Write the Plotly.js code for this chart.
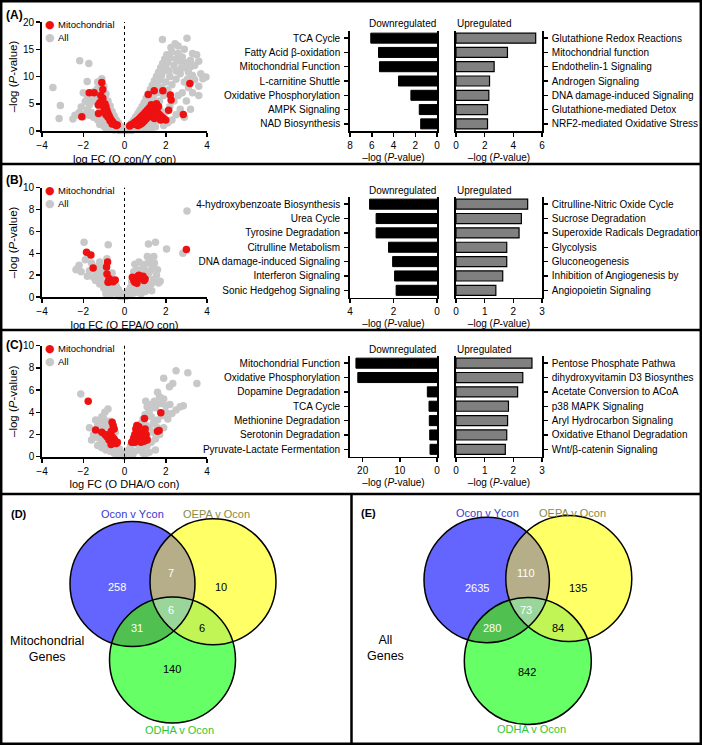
<!DOCTYPE html>
<html><head><meta charset="utf-8">
<script src="https://cdn.plot.ly/plotly-3.0.1.min.js"></script>
<style>body{margin:0;background:#fff}#chart{width:702px;height:745px}</style>
</head><body><div id="chart"></div>
<script>
// ---------------- DATA ----------------
const volcA_all = [[-0.1,0.2],[-0.2,0.5],[-0.3,0.3],[-0.15,0.8],[-0.4,0.6],[-0.35,1.2],[-0.5,0.9],[-0.45,1.6],[-0.6,1.3],[-0.55,2.1],[-0.7,1.8],[-0.65,2.6],[-0.8,2.3],[-0.75,3.0],[-0.9,2.8],[-0.85,3.6],[-1.0,3.2],[-0.95,4.1],[-1.1,3.8],[-1.05,4.6],[-1.2,4.3],[-1.15,5.3],[-1.3,5.0],[-1.25,6.0],[-1.4,5.6],[-1.35,6.6],[-1.5,6.2],[-1.45,7.3],[-1.6,5.4],[-1.3,7.8],[-1.2,8.5],[-1.0,8.2],[-1.7,4.8],[-1.8,3.9],[-1.6,3.4],[-1.9,3.1],[-2.0,2.6],[-1.4,2.9],[-1.2,2.2],[-1.0,1.9],[-0.9,1.3],[-0.8,1.0],[-0.7,0.7],[-0.6,0.5],[-1.1,1.5],[-1.3,2.0],[-1.5,2.5],[-1.7,2.9],[-2.2,3.4],[-2.4,2.9],[-2.5,2.2],[-1.9,5.4],[-1.8,6.2],[-1.6,7.0],[-2.1,4.4],[-1.1,9.6],[-1.3,9.0],[-0.9,6.8],[-0.8,5.5],[-0.7,4.6],[-0.6,3.6],[-0.5,2.8],[-0.4,2.0],[-0.3,1.5],[-3.47,8.0],[-3.11,4.7],[-3.17,2.3],[-2.17,12.9],[-1.73,12.4],[-1.81,9.1],[-2.33,2.9],[-2.0,7.0],[-1.0,0.9],[-1.2,1.2],
[0.1,0.2],[0.2,0.6],[0.3,0.3],[0.25,1.0],[0.4,0.8],[0.35,1.5],[0.5,1.2],[0.45,2.0],[0.6,1.7],[0.55,2.6],[0.7,2.2],[0.65,3.2],[0.8,2.8],[0.75,3.8],[0.9,3.4],[0.85,4.5],[1.0,4.0],[0.95,5.2],[1.1,4.7],[1.05,6.0],[1.2,5.5],[1.15,6.8],[1.3,6.2],[1.25,7.6],[1.4,7.0],[1.35,8.4],[1.5,7.8],[1.45,9.2],[1.6,8.6],[1.55,10.0],[1.7,9.4],[1.65,10.8],[1.8,10.2],[1.75,11.6],[1.9,11.0],[1.85,12.4],[2.0,11.8],[1.95,13.2],[2.1,12.6],[2.05,14.0],[2.2,13.4],[2.3,14.5],[2.4,12.0],[2.5,13.2],[2.6,14.2],[2.7,12.8],[2.8,13.6],[2.9,11.6],[3.0,12.5],[3.1,10.8],[3.2,11.8],[3.3,10.2],[3.4,9.4],[3.5,14.0],[3.3,14.2],[3.6,12.8],[3.7,10.5],[3.8,9.6],[3.95,9.9],[3.03,17.0],[1.84,16.8],[2.25,15.3],[2.6,15.6],[2.9,15.0],[3.2,13.0],[2.5,11.0],[2.2,10.0],[2.0,9.0],[1.8,8.0],[1.6,7.0],[1.4,6.0],[1.2,4.2],[1.0,3.0],[0.8,1.9],[0.6,1.0],[1.5,4.5],[1.7,5.5],[1.9,6.5],[2.1,7.5],[2.3,8.5],[2.5,9.5],[2.7,10.5],[2.9,9.0],[3.1,8.0],[2.8,7.0],[2.6,6.5],[2.4,5.5],[2.2,4.5],[2.0,3.5],[1.8,2.5],[1.6,2.0],[1.4,1.5],[1.2,1.0],[1.0,0.6],[2.5,3.0],[2.7,4.0],[3.0,5.5],[3.3,7.0],[3.6,8.2],[2.9,2.5],[3.2,4.0],[2.3,2.0],[2.1,1.5],[1.9,1.0],[3.6,6.5],[2.45,16.0],[2.75,11.5],[3.05,9.5],[3.4,12.0],[2.15,11.0],[1.3,2.6],[1.1,2.0],[1.5,3.2],[1.7,3.9],
[0,0.1],[-0.05,0.4],[0.05,0.5],[0.15,0.1],[-0.25,0.1],[0.35,0.1],[0.5,0.3],[-0.5,0.2],[0.7,0.4],[-0.7,0.3],[0.9,0.3],[1.1,0.4],[1.3,0.5],[1.5,0.8],[-0.9,0.5]];
const volcA_mito = [[-2.07,2.6],[-1.10,8.9],[-1.71,7.0],[-1.47,7.0],[-1.26,3.2],[-1.27,4.75],[-1.15,6.5],[-1.05,6.0],[-1.1,5.5],[-0.95,5.0],[-1.0,4.3],[-0.9,4.5],[-0.85,3.8],[-0.8,3.2],[-0.75,2.8],[-0.7,2.4],[-0.65,2.0],[-0.6,1.8],[-0.55,1.5],[-0.5,1.3],[-0.45,1.2],[-0.4,1.0],[-0.9,3.0],[-0.8,2.5],[-0.7,1.9],[-1.2,5.2],[-1.05,7.6],[-1.0,3.5],[-0.6,1.3],[-0.35,1.1],
[3.17,8.7],[2.85,3.05],[2.22,6.6],[1.86,7.4],[1.44,7.4],[1.15,6.7],[2.26,5.7],[2.14,3.8],[1.3,4.8],[1.2,4.2],[1.1,3.8],[1.0,3.4],[0.9,3.0],[0.8,2.6],[0.7,2.2],[0.6,1.9],[0.5,1.6],[0.4,1.3],[0.3,1.1],[0.25,0.9],[1.4,4.4],[1.5,3.9],[1.6,3.4],[1.7,3.0],[1.8,2.6],[1.9,2.3],[2.0,2.0],[1.35,3.2],[1.2,2.6],[1.05,2.2],[0.95,1.8],[0.85,1.4],[0.75,1.2],[0.65,1.0],[1.55,5.0],[1.65,4.5],[1.25,3.0],[0.55,1.2],[1.45,2.3],[1.75,2.0]];

const volcB_all = [[-1.96,5.0],[-0.79,4.77],[-2.28,2.6],[-2.2,2.9],[-2.35,2.5],[-2.1,2.3],[-1.9,3.4],[-1.75,3.8],[-1.6,3.1],[-1.5,2.7],[-1.4,2.4],[-1.3,2.1],[-1.2,1.9],[-1.1,1.6],[-1.0,1.4],[-0.9,1.2],[-0.8,1.0],[-0.7,0.8],[-0.6,0.6],[-0.5,0.5],[-0.4,0.35],[-0.3,0.25],[-0.2,0.15],[-0.1,0.05],[-1.0,2.8],[-0.9,2.5],[-0.8,2.2],[-0.7,1.9],[-0.6,1.6],[-0.5,1.3],[-0.4,1.0],[-0.3,0.7],[-0.2,0.4],[-1.2,3.2],[-0.85,3.5],[-1.3,2.8],[-1.5,1.8],[-1.7,2.4],[-1.8,1.9],[-1.1,2.3],[-0.6,2.2],[-0.55,1.0],[-0.45,0.7],[-0.35,0.4],[-0.25,0.1],[-0.8,0.5],[-1.0,0.8],[-1.2,1.2],[-1.4,1.5],[-0.7,1.3],[-0.65,0.3],[-0.9,0.3],
[3.03,7.87],[2.83,4.0],[2.04,4.4],[1.5,5.0],[1.16,4.86],[1.11,3.7],[1.42,3.7],[1.65,1.28],[1.73,1.43],[1.32,0.58],[1.2,3.2],[1.0,3.0],[0.9,2.7],[0.8,2.4],[0.7,2.1],[0.6,1.8],[0.5,1.5],[0.4,1.2],[0.3,0.9],[0.2,0.6],[0.1,0.3],[0.05,0.1],[0.15,0.2],[0.25,0.4],[0.35,0.5],[0.45,0.7],[0.55,0.9],[0.65,1.1],[0.75,1.3],[0.85,1.5],[0.95,1.7],[1.05,1.9],[1.15,2.1],[1.25,2.4],[1.35,2.8],[1.45,3.1],[1.3,1.2],[1.4,1.6],[1.55,2.0],[1.1,1.0],[0.9,0.8],[0.7,0.6],[0.5,0.4],[0.3,0.2],[0.6,2.5],[0.5,3.0],[0.7,3.2],[0.45,2.3],[1.0,2.4],[1.6,2.5],[0.8,0.3],[1.0,0.5],[0.35,1.4],
[0,0.05],[0.0,0.2],[-0.05,0.1],[0.1,0.1]];
const volcB_mito = [[-1.84,4.1],[-1.63,3.85],[-1.52,2.65],[-0.82,3.2],[-0.87,2.75],[-0.85,2.1],[-0.75,1.7],[-0.72,1.4],[-0.6,1.5],[-0.45,1.55],[-0.55,1.4],[-0.8,1.35],
[3.0,4.35],[0.38,1.8],[0.45,1.5],[0.5,1.35],[0.55,1.6],[0.65,1.9],[0.7,2.0],[0.75,1.8],[0.85,1.7],[0.95,1.5],[1.0,1.65],[0.6,1.25],[0.9,1.9]];

const volcC_all = [[-2.12,5.65],[-0.8,4.3],[-1.1,3.6],[-1.0,3.4],[-1.3,2.8],[-1.4,2.4],[-1.2,2.2],[-1.0,2.6],[-0.9,3.0],[-0.8,2.9],[-0.7,3.2],[-0.6,3.0],[-1.5,2.0],[-1.3,1.7],[-1.1,1.5],[-0.9,1.3],[-0.7,1.1],[-0.6,0.9],[-0.5,0.7],[-0.4,0.5],[-0.3,0.3],[-0.2,0.2],[-0.1,0.1],[-1.3,1.0],[-1.1,0.8],[-0.9,0.6],[-0.7,0.5],[-0.5,0.3],[-0.3,0.1],[-0.8,2.0],[-0.6,1.8],[-0.5,1.4],[-1.6,1.5],[-1.2,3.2],[-0.95,4.0],[-1.4,3.3],[-1.7,2.6],[-0.35,1.2],[-0.45,2.2],[-0.25,0.7],[-0.15,0.4],[-1.0,1.0],[-0.8,0.8],
[2.5,7.75],[3.07,7.57],[3.51,6.6],[1.9,7.06],[2.34,6.6],[2.18,6.3],[2.85,4.6],[1.6,5.8],[1.7,5.4],[1.03,5.0],[1.1,4.5],[1.3,4.7],[1.45,5.0],[1.5,4.4],[1.75,4.8],[1.9,5.2],[2.0,4.6],[2.2,4.7],[1.2,4.1],[1.0,3.8],[0.9,3.4],[0.8,3.0],[0.7,2.6],[0.6,2.2],[0.5,1.8],[0.4,1.4],[0.3,1.0],[0.2,0.6],[0.1,0.3],[0.05,0.1],[0.3,0.3],[0.5,0.5],[0.7,0.6],[0.9,0.8],[1.1,1.0],[1.3,1.3],[1.5,1.6],[1.7,2.0],[1.9,2.6],[2.1,3.4],[2.3,3.9],[1.6,3.3],[1.4,3.0],[1.2,2.6],[1.0,2.2],[0.8,1.7],[0.6,1.2],[1.8,3.7],[2.0,4.0],[2.5,4.2],[2.7,4.5],[1.3,3.6],[0.9,0.3],[1.2,0.4],[1.5,0.6],[1.0,0.2],[0.4,0.2],[0.75,2.0],[1.05,2.8],[0.65,1.5],[1.4,2.2],[1.6,2.6],[1.1,1.8],
[0,0.05],[-0.05,0.2],[0.1,0.15],[0.2,0.1]];
const volcC_mito = [[-1.76,5.0],[-1.4,2.4],[-1.1,2.2],[-0.6,3.1],[-0.55,2.8],[-0.5,2.5],[-0.65,2.3],[-0.7,2.0],[-0.6,1.8],[-0.5,1.6],[-0.45,1.4],[-0.4,1.2],[-0.55,1.3],[-0.75,1.5],[-0.85,1.8],[-0.95,2.0],[-0.65,1.1],[-0.35,1.3],
[1.76,3.96],[1.6,2.3],[1.68,2.35],[0.97,3.45],[0.6,2.8],[0.55,2.5],[0.65,2.2],[0.5,2.0],[0.45,1.7],[0.4,1.4],[0.5,1.3],[0.6,1.5],[0.75,1.6],[0.85,2.1],[0.9,1.8],[1.0,2.5],[0.95,1.4],[1.1,1.5],[1.05,2.0],[0.7,2.7],[0.35,1.3],[0.8,1.3]];

const volcTitles = ['log FC (O con/Y con)','log FC (O EPA/O con)','log FC (O DHA/O con)'];

const catsA_down = ['TCA Cycle','Fatty Acid β-oxidation','Mitochondrial Function','L-carnitine Shuttle','Oxidative Phosphorylation','AMPK Signaling','NAD Biosynthesis'];
const valsA_down = [6.09,5.38,5.29,3.54,2.4,1.63,1.5];
const catsA_up = ['Glutathione Redox Reactions','Mitochondrial function','Endothelin-1 Signaling','Androgen Signaling','DNA damage-induced Signaling','Glutathione-mediated Detox','NRF2-mediated Oxidative Stress'];
const valsA_up = [5.56,3.59,2.66,2.34,2.29,2.2,2.2];
const catsB_down = ['4-hydroxybenzoate Biosynthesis','Urea Cycle','Tyrosine Degradation','Citrulline Metabolism','DNA damage-induced Signaling','Interferon Signaling','Sonic Hedgehog Signaling'];
const valsB_down = [3.1,2.8,2.8,2.23,2.04,1.95,1.88];
const catsB_up = ['Citrulline-Nitric Oxide Cycle','Sucrose Degradation','Superoxide Radicals Degradation','Glycolysis','Gluconeogenesis','Inhibition of Angiogenesis by','Angiopoietin Signaling'];
const valsB_up = [2.5,2.28,2.2,1.77,1.77,1.63,1.39];
const catsC_down = ['Mitochondrial Function','Oxidative Phosphorylation','Dopamine Degradation','TCA Cycle','Methionine Degradation','Serotonin Degradation','Pyruvate-Lactate Fermentation'];
const valsC_down = [21.8,21.3,2.6,2.15,2.07,1.96,1.88];
const catsC_up = ['Pentose Phosphate Pathwa','dihydroxyvitamin D3 Biosynthes','Acetate Conversion to ACoA','p38 MAPK Signaling','Aryl Hydrocarbon Signaling','Oxidative Ethanol Degradation','Wnt/β-catenin Signaling'];
const valsC_up = [2.65,2.33,2.15,1.83,1.8,1.77,1.72];

const vennSets = ['Ocon v Ycon','OEPA v Ocon','ODHA v Ocon'];
// regions: only1, only2, only3, 1&2, 1&3, 2&3, all
const vennMito = [258,10,140,7,31,6,6];
const vennAll = [2635,135,842,110,280,84,73];

// ---------------- LAYOUT HELPERS ----------------
const W=702,H=745;
const px=x=>x/W, py=y=>1-y/H;
const FONT='Arial, "Liberation Sans", sans-serif';
const RED='#ee1111', GRAY='#c8c8c8';

const traces=[], annotations=[], shapes=[];
const layout={width:W,height:H,margin:{l:0,r:0,t:0,b:0},paper_bgcolor:'#fff',plot_bgcolor:'rgba(0,0,0,0)',
  font:{family:FONT,color:'#000',size:10},showlegend:false,annotations,shapes,bargap:0.3};

function note(x,y,text,opts){
  annotations.push(Object.assign({xref:'paper',yref:'paper',x:px(x),y:py(y),text:text,showarrow:false,
    xanchor:'center',yanchor:'middle',font:{size:10,family:FONT,color:'#000'}},opts||{}));
}

const baseAx={showline:true,linecolor:'#000',linewidth:1.8,ticks:'outside',ticklen:4,tickwidth:1.5,tickcolor:'#000',
  showgrid:false,zeroline:false,tickfont:{size:10,family:FONT},fixedrange:true};

const panels=[
  {all:volcA_all,mito:volcA_mito,vTop:22,vBot:131,yr:[0,20],yd:5,bTop:31,bBot:131,
   dc:catsA_down,dv:valsA_down,dr:[8,0],dd:2,uc:catsA_up,uv:valsA_up,ur:[0,6],ud:2,label:'(A)',ly:15},
  {all:volcB_all,mito:volcB_mito,vTop:187.7,vBot:297,yr:[0,10],yd:2,bTop:197,bBot:297.5,
   dc:catsB_down,dv:valsB_down,dr:[4,0],dd:2,uc:catsB_up,uv:valsB_up,ur:[0,3],ud:1,label:'(B)',ly:180},
  {all:volcC_all,mito:volcC_mito,vTop:345.7,vBot:456.7,yr:[0,10],yd:2,bTop:356,bBot:456.5,
   dc:catsC_down,dv:valsC_down,dr:[23.4,0],dd:10,uc:catsC_up,uv:valsC_up,ur:[0,3],ud:1,label:'(C)',ly:345}
];

panels.forEach((p,i)=>{
  const n=i*3+1;
  const xv='x'+(n===1?'':n), yv='y'+(n===1?'':n);
  const xd='x'+(n+1), yd='y'+(n+1), xu='x'+(n+2), yu='y'+(n+2);
  const axName=(s)=> (s[0]==='x'?'xaxis':'yaxis')+s.slice(1);
  // volcano
  traces.push({type:'scatter',mode:'markers',x:p.all.map(d=>d[0]),y:p.all.map(d=>d[1]),xaxis:xv,yaxis:yv,name:'All',
    marker:{color:GRAY,size:7.5,line:{width:0}},cliponaxis:false,hoverinfo:'skip'});
  traces.push({type:'scatter',mode:'markers',x:p.mito.map(d=>d[0]),y:p.mito.map(d=>d[1]),xaxis:xv,yaxis:yv,name:'Mitochondrial',
    marker:{color:RED,size:7.5,line:{width:0}},cliponaxis:false,hoverinfo:'skip'});
  layout[axName(xv)]=Object.assign({},baseAx,{domain:[px(42),px(207)],range:[-4,4],dtick:2,anchor:yv,
    title:{text:volcTitles[i],font:{size:11,family:FONT},standoff:5}});
  layout[axName(yv)]=Object.assign({},baseAx,{domain:[py(p.vBot),py(p.vTop)],range:p.yr,dtick:p.yd,anchor:xv,
    title:{text:'–log (<i>P</i>-value)',font:{size:11.5,family:FONT},standoff:3}});
  shapes.push({type:'line',xref:xv,yref:yv+' domain',x0:0,x1:0,y0:0,y1:1,line:{color:'#000',width:1,dash:'dot'}});
  // legend (drawn as annotations)
  [[RED,'Mitochondrial',p.vTop+3],[GRAY,'All',p.vTop+16]].forEach(([c,t,yy])=>{
    note(49.5,yy,'●',{font:{size:11,color:c,family:'DejaVu Sans'}});
    note(56,yy,t,{xanchor:'left',font:{size:9.5,family:FONT,color:'#000'}});
  });
  // down bars
  traces.push({type:'bar',orientation:'h',x:p.dv,y:p.dc,xaxis:xd,yaxis:yd,marker:{color:'#000',line:{color:'#000',width:1}},width:0.7,hoverinfo:'skip'});
  layout[axName(xd)]=Object.assign({},baseAx,{domain:[px(350),px(437)],range:p.dr,dtick:p.dd,anchor:yd,
    title:{text:'–log (<i>P</i>-value)',font:{size:10,family:FONT},standoff:4}});
  layout[axName(yd)]=Object.assign({},baseAx,{domain:[py(p.bBot),py(p.bTop)],type:'category',categoryarray:p.dc,range:[6.5,-0.5],
    anchor:xd,side:'left',mirror:true,tickfont:{size:10,family:FONT},ticklabelstandoff:2});
  // up bars
  traces.push({type:'bar',orientation:'h',x:p.uv,y:p.uc,xaxis:xu,yaxis:yu,marker:{color:'#808080',line:{color:'#000',width:1.2}},width:0.7,hoverinfo:'skip'});
  layout[axName(xu)]=Object.assign({},baseAx,{domain:[px(456),px(542)],range:p.ur,dtick:p.ud,anchor:yu,
    title:{text:'–log (<i>P</i>-value)',font:{size:10,family:FONT},standoff:4}});
  layout[axName(yu)]=Object.assign({},baseAx,{domain:[py(p.bBot),py(p.bTop)],type:'category',categoryarray:p.uc,range:[6.5,-0.5],
    anchor:xu,side:'right',mirror:true,tickfont:{size:10,family:FONT},ticklabelstandoff:2});
  note(438,p.bTop-7,'Downregulated',{xanchor:'right'});
  note(455,p.bTop-7,'Upregulated',{xanchor:'left'});
  note(4,p.ly,'<b>'+p.label+'</b>',{xanchor:'left',font:{size:12,family:FONT,color:'#000'}});
});

// ---------------- VENN ----------------
function polyPath(circles){
  const pts=[];
  circles.forEach((c,i)=>{
    for(let k=0;k<720;k++){
      const a=k/720*2*Math.PI, x=c.cx+c.r*Math.cos(a), y=c.cy+c.r*Math.sin(a);
      if(circles.every((d,j)=>j===i||Math.hypot(x-d.cx,y-d.cy)<=d.r+0.01)) pts.push([x,y]);
    }
  });
  const mx=pts.reduce((s,p)=>s+p[0],0)/pts.length, my=pts.reduce((s,p)=>s+p[1],0)/pts.length;
  pts.sort((a,b)=>Math.atan2(a[1]-my,a[0]-mx)-Math.atan2(b[1]-my,b[0]-mx));
  return 'M'+pts.map(p=>px(p[0]).toFixed(5)+','+py(p[1]).toFixed(5)).join('L')+'Z';
}
function drawVenn(C, counts, setPos, sideText, sidePos, numPos, panelLabel, plPos){
  const fills=['#6464ff','#ffff66','#66ff66'];
  C.forEach((c,i)=>shapes.push({type:'circle',xref:'paper',yref:'paper',layer:'below',x0:px(c.cx-c.r),x1:px(c.cx+c.r),y0:py(c.cy+c.r),y1:py(c.cy-c.r),fillcolor:fills[i],line:{width:0}}));
  const pairs=[[[0,1],'#b5ae88'],[[0,2],'#50c050'],[[1,2],'#c0f555']];
  pairs.forEach(([ij,col])=>shapes.push({type:'path',xref:'paper',yref:'paper',layer:'below',path:polyPath(ij.map(k=>C[k])),fillcolor:col,line:{width:0}}));
  shapes.push({type:'path',xref:'paper',yref:'paper',layer:'below',path:polyPath(C),fillcolor:'#9ad69a',line:{width:0}});
  C.forEach(c=>shapes.push({type:'circle',xref:'paper',yref:'paper',x0:px(c.cx-c.r),x1:px(c.cx+c.r),y0:py(c.cy+c.r),y1:py(c.cy-c.r),line:{color:'#000',width:1.5}}));
  const numColors=['#fff','#000','#000','#fff','#fff','#000','#fff'];
  counts.forEach((v,k)=>note(numPos[k][0],numPos[k][1],String(v),{font:{size:11,color:numColors[k],family:FONT}}));
  const setColors=['#3838d0','#8a8a40','#30c830'];
  vennSets.forEach((s,k)=>note(setPos[k][0],setPos[k][1],s,{font:{size:11,color:setColors[k],family:FONT}}));
  note(sidePos[0],sidePos[1],sideText,{align:'center',font:{size:12.5,family:FONT,color:'#000'}});
  note(plPos[0],plPos[1],'<b>'+panelLabel+'</b>',{xanchor:'left',font:{size:11,family:FONT,color:'#000'}});
}
drawVenn([{cx:132.5,cy:584,r:62.5},{cx:213,cy:581.7,r:63},{cx:172.5,cy:660,r:63}], vennMito,
  [[132.7,514],[216.7,514],[180,730]], 'Mitochondrial<br>Genes', [46.7,649],
  [[116.7,587.3],[220.7,587],[171.7,669.3],[170.7,572.7],[137.3,627.7],[201.7,627.7],[170.7,610]], '(D)', [9,514]);
drawVenn([{cx:486.7,cy:580,r:62.7},{cx:568.8,cy:578.5,r:63},{cx:527.8,cy:661,r:63.5}], vennAll,
  [[487.3,513],[572.7,513],[531.7,729.3]], 'All<br>Genes', [385,648.3],
  [[476.7,588.3],[577.7,588.3],[527.3,671.7],[526,573.3],[491.7,628.3],[557.7,628.3],[525.7,610]], '(E)', [359,513]);

// ---------------- PANEL BORDERS ----------------
const bw=2.5;
shapes.push({type:'rect',xref:'paper',yref:'paper',x0:px(1.2),x1:px(700.8),y0:py(743.8),y1:py(1.2),line:{color:'#000',width:bw}});
[164,330,494].forEach(y=>shapes.push({type:'line',xref:'paper',yref:'paper',x0:px(1),x1:px(701),y0:py(y),y1:py(y),line:{color:'#000',width:bw}}));
shapes.push({type:'line',xref:'paper',yref:'paper',x0:px(351.5),x1:px(351.5),y0:py(494),y1:py(744),line:{color:'#000',width:bw}});

Plotly.newPlot('chart',traces,layout,{staticPlot:true,displayModeBar:false});
</script></body></html>
